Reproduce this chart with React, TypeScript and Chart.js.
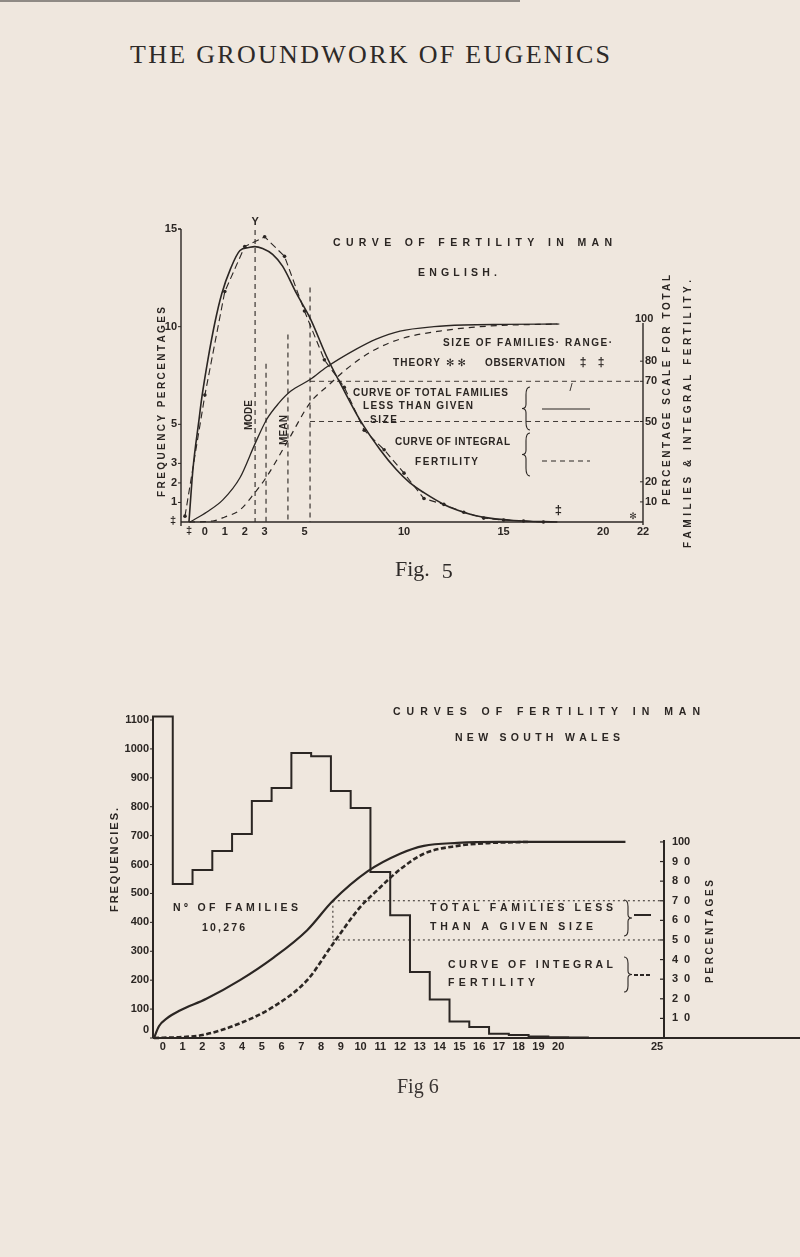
import { useEffect, useRef } from "react";
import { Chart, registerables } from "chart.js";

Chart.register(...registerables);

// ---------------- Fig. 5 : English data ----------------
const fig5TheoryX = [-0.8, -0.6, -0.3, -0.15, 0.15, 0.5, 0.85, 1.3, 1.76, 2.2, 2.5, 2.9, 3.4, 3.9, 4.6, 5.3, 6.1, 6.9, 7.8, 8.8, 9.6, 10.3, 11.0, 12.0, 12.7, 13.5, 14.3, 15.5, 17.7];
const fig5TheoryY = [0, 2.7, 5.2, 6.4, 8.3, 10.2, 11.7, 13.0, 13.9, 14.05, 14.1, 14.0, 13.7, 13.1, 11.7, 10.4, 8.5, 6.9, 5.2, 3.7, 2.7, 2.0, 1.5, 0.9, 0.6, 0.35, 0.2, 0.08, 0];
const fig5ObsSize = [-1, 0, 1, 2, 3, 4, 5, 6, 7, 8, 9, 10, 11, 12, 13, 14, 15, 16, 17];
const fig5ObsY = [0.3, 6.5, 11.8, 14.1, 14.6, 13.6, 10.8, 8.3, 6.9, 4.7, 3.7, 2.5, 1.2, 0.9, 0.5, 0.2, 0.1, 0.05, 0];
const fig5TotalX = [-0.75, 0.1, 0.9, 1.76, 2.52, 3.1, 3.7, 4.3, 5.3, 6.1, 7.6, 8.6, 9.8, 11.5, 13, 15, 17.7];
const fig5TotalP = [0, 5, 11, 22, 39, 51, 59, 65, 71, 77, 86, 91, 95, 97.2, 98, 98.3, 98.5];
const fig5IntegralX = [-0.8, 0.4, 1.0, 1.76, 2.5, 3.1, 4.2, 5.3, 6.2, 7.1, 8.4, 9.8, 11.8, 14.3, 17.8];
const fig5IntegralP = [0, 0.5, 2.5, 6, 14.5, 22.5, 41, 59.5, 68, 76, 85, 91, 95, 97.5, 98.5];
const fig5LeftTicks = [1, 2, 3, 5, 10, 15];
const fig5RightTicks = [10, 20, 50, 70, 80, 100];
const fig5XTicks = [0, 1, 2, 3, 5, 10, 15, 20, 22];
const fig5MarkerX = [2.52, 3.07, 4.17, 5.28];
const fig5MarkerTop = [14.95, 8.1, 9.6, 12.0];
const fig5Guides = [70, 50];

// ---------------- Fig. 6 : New South Wales data ----------------
const fig6Sizes = [0, 1, 2, 3, 4, 5, 6, 7, 8, 9, 10, 11, 12, 13, 14, 15, 16, 17, 18, 19, 20, 21];
const fig6Families = [1112, 533, 581, 647, 706, 820, 865, 986, 975, 854, 796, 574, 425, 228, 133, 57, 38, 15, 10, 5, 3, 2];
const fig6TotalX = [-0.45, -0.2, 0.2, 0.86, 2.2, 3.9, 5.6, 7.3, 8.6, 10.35, 12, 13.2, 14.9, 17, 23.4];
const fig6TotalP = [0, 6, 10, 14, 20, 29.5, 41, 55, 70, 85, 94, 98, 99.5, 100, 100];
const fig6IntegralX = [-0.45, 1, 2, 3.9, 5.6, 7.3, 8.6, 10, 10.7, 12, 13.2, 14.9, 16.6, 18.5];
const fig6IntegralP = [0, 0.5, 1.5, 7.5, 16, 29.5, 48, 67, 74, 86, 94, 98, 99.5, 100];
const fig6LeftTicks = [0, 100, 200, 300, 400, 500, 600, 700, 800, 900, 1000, 1100];
const fig6RightTicks = [10, 20, 30, 40, 50, 60, 70, 80, 90, 100];
const fig6XTicks = [0, 1, 2, 3, 4, 5, 6, 7, 8, 9, 10, 11, 12, 13, 14, 15, 16, 17, 18, 19, 20, 25];
const fig6Guides = [70, 50];
const fig6GuideX = 8.6;

// ---------------- styling ----------------
const INK = "#2b2623";
const PAPER = "#efe7de";
const SANS = '"Liberation Sans", "DejaVu Sans", sans-serif';
const F10 = `bold 10px ${SANS}`;
const F11 = `bold 11px ${SANS}`;

const pts = (xs: number[], ys: number[]) => xs.map((x, i) => ({ x, y: ys[i] }));

function spaced(ctx: CanvasRenderingContext2D, text: string, x0: number, x1: number, y: number, font: string) {
  ctx.font = font;
  ctx.textAlign = "left";
  ctx.textBaseline = "middle";
  const chars = Array.from(text);
  const w = chars.map((c) => ctx.measureText(c).width);
  const total = w.reduce((a, b) => a + b, 0);
  const gap = chars.length > 1 ? (x1 - x0 - total) / (chars.length - 1) : 0;
  let x = x0;
  chars.forEach((c, i) => {
    ctx.fillText(c, x, y);
    x += w[i] + gap;
  });
}
function rotSpaced(ctx: CanvasRenderingContext2D, text: string, x: number, yBottom: number, yTop: number, font: string) {
  ctx.save();
  ctx.translate(x, yBottom);
  ctx.rotate(-Math.PI / 2);
  spaced(ctx, text, 0, yBottom - yTop, 0, font);
  ctx.restore();
}
function seg(ctx: CanvasRenderingContext2D, x0: number, y0: number, x1: number, y1: number, width: number, dash: number[] = []) {
  ctx.save();
  ctx.lineWidth = width;
  ctx.setLineDash(dash);
  ctx.beginPath();
  ctx.moveTo(x0, y0);
  ctx.lineTo(x1, y1);
  ctx.stroke();
  ctx.restore();
}
function txt(ctx: CanvasRenderingContext2D, s: string, x: number, y: number, font: string, align: CanvasTextAlign) {
  ctx.font = font;
  ctx.textAlign = align;
  ctx.textBaseline = "middle";
  ctx.fillText(s, x, y);
}
function brace(ctx: CanvasRenderingContext2D, x: number, y0: number, y1: number, dir: number) {
  const h = y1 - y0;
  const m = (y0 + y1) / 2;
  const w = 4 * dir;
  ctx.save();
  ctx.lineWidth = 1.1;
  ctx.setLineDash([]);
  ctx.beginPath();
  ctx.moveTo(x - w, y0);
  ctx.quadraticCurveTo(x, y0, x, y0 + h * 0.18);
  ctx.lineTo(x, m - h * 0.1);
  ctx.quadraticCurveTo(x, m, x + w, m);
  ctx.quadraticCurveTo(x, m, x, m + h * 0.1);
  ctx.lineTo(x, y1 - h * 0.18);
  ctx.quadraticCurveTo(x, y1, x - w, y1);
  ctx.stroke();
  ctx.restore();
}

// annotation layouts (page pixels)
const fig5Texts: [string, number, number, number][] = [
  ["CURVE OF FERTILITY IN MAN", 333, 612, 243],
  ["ENGLISH.", 418, 497, 273],
  ["SIZE OF FAMILIES· RANGE·", 443, 612, 343],
  ["THEORY", 393, 440, 363],
  ["✻✻", 446, 466, 363],
  ["OBSERVATION", 485, 565, 363],
  ["CURVE OF TOTAL FAMILIES", 353, 508, 393],
  ["LESS THAN GIVEN", 363, 473, 406],
  ["SIZE", 370, 397, 420],
  ["CURVE OF INTEGRAL", 395, 510, 442],
  ["FERTILITY", 415, 478, 462],
];
const fig6Texts: [string, number, number, number][] = [
  ["CURVES OF FERTILITY IN MAN", 393, 700, 712],
  ["NEW SOUTH WALES", 455, 620, 738],
  ["Nº OF FAMILIES", 173, 298, 908],
  ["10,276", 202, 245, 928],
  ["TOTAL FAMILIES LESS", 430, 613, 908],
  ["THAN A GIVEN SIZE", 430, 593, 927],
  ["CURVE OF INTEGRAL", 448, 613, 965],
  ["FERTILITY", 448, 535, 983],
];

const fig5Decor = {
  id: "fig5Decor",
  afterDraw(chart: any) {
    const { ctx } = chart;
    const { x, y, y2 } = chart.scales;
    const X = (v: number) => x.getPixelForValue(v);
    const Y = (v: number) => y.getPixelForValue(v);
    const P = (v: number) => y2.getPixelForValue(v);
    ctx.save();
    ctx.strokeStyle = INK;
    ctx.fillStyle = INK;
    const left = X(x.min);
    const right = X(22);
    const base = Y(0);
    // axes
    seg(ctx, left, Y(15), left, base + 4, 1.4);
    seg(ctx, left - 3, Y(15), left, Y(15), 1.2);
    seg(ctx, left, base, right, base, 1.4);
    seg(ctx, right, P(99), right, base + 3, 1.4);
    fig5LeftTicks.forEach((v) => {
      seg(ctx, left - 3, Y(v), left, Y(v), 1);
      txt(ctx, String(v), left - 4, Y(v), F11, "right");
    });
    fig5RightTicks.forEach((v) => {
      if (v === 100) {
        txt(ctx, "100", right - 8, P(v) - 2, F11, "left");
      } else {
        seg(ctx, right - 3, P(v), right, P(v), 1);
        txt(ctx, String(v), right + 2, P(v), F11, "left");
      }
    });
    fig5XTicks.forEach((v) => txt(ctx, String(v), X(v), base + 10, F11, "center"));
    txt(ctx, "‡", left - 8, base - 1, F11, "center");
    txt(ctx, "‡", X(-0.8), base + 9, F11, "center");
    // range symbols on the baseline
    txt(ctx, "‡", X(17.75), base - 12, `bold 13px ${SANS}`, "center");
    txt(ctx, "✻", X(21.5), base - 5, `bold 9px ${SANS}`, "center");
    // mode / mean markers
    fig5MarkerX.forEach((mx, i) => seg(ctx, X(mx), Y(fig5MarkerTop[i]), X(mx), base, 1.1, [5, 4]));
    txt(ctx, "Y", X(2.52), Y(fig5MarkerTop[0]) - 8, F11, "center");
    rotSpaced(ctx, "MODE", X(2.52) - 6, 430, 400, F10);
    rotSpaced(ctx, "MEAN", X(4.17) - 4, 445, 415, F10);
    // guide lines
    fig5Guides.forEach((g) => seg(ctx, X(fig5MarkerX[3]), P(g), right, P(g), 0.9, [5, 4]));
    // axis titles
    rotSpaced(ctx, "FREQUENCY PERCENTAGES", 162, 497, 307, F10);
    rotSpaced(ctx, "PERCENTAGE SCALE FOR TOTAL", 667, 505, 275, F10);
    rotSpaced(ctx, "FAMILIES & INTEGRAL FERTILITY.", 688, 548, 280, F10);
    // texts
    fig5Texts.forEach(([s, a, b, yy], i) => spaced(ctx, s, a, b, yy, i === 0 || i === 1 ? `bold 10.5px ${SANS}` : F10));
    txt(ctx, "‡", 583, 363, `bold 12px ${SANS}`, "center");
    txt(ctx, "‡", 601, 363, `bold 12px ${SANS}`, "center");
    txt(ctx, "/", 571, 388, `11px ${SANS}`, "center");
    brace(ctx, 526, 387, 430, -1);
    brace(ctx, 526, 433, 476, -1);
    seg(ctx, 542, 409, 590, 409, 1.1);
    seg(ctx, 542, 461, 590, 461, 1.1, [5, 4]);
    ctx.restore();
  },
};

const fig6Decor = {
  id: "fig6Decor",
  afterDraw(chart: any) {
    const { ctx } = chart;
    const { x, y, y2 } = chart.scales;
    const X = (v: number) => x.getPixelForValue(v);
    const Y = (v: number) => y.getPixelForValue(v);
    const P = (v: number) => y2.getPixelForValue(v);
    ctx.save();
    ctx.strokeStyle = INK;
    ctx.fillStyle = INK;
    const left = X(x.min);
    const right = X(x.max);
    const base = Y(0);
    seg(ctx, left, Y(fig6Families[0]), left, base, 2);
    seg(ctx, left, base, 800, base, 2);
    seg(ctx, right, P(100) - 2, right, base, 2);
    fig6LeftTicks.forEach((v) => {
      seg(ctx, left - 3, Y(v), left, Y(v), 1);
      txt(ctx, String(v), left - 4, v === 0 ? Y(v) - 8 : Y(v), F11, "right");
    });
    fig6RightTicks.forEach((v) => {
      seg(ctx, right - 4, P(v), right, P(v), 1.2);
      spaced(ctx, String(v), 672, 690, P(v), F11);
    });
    fig6XTicks.forEach((v) => txt(ctx, String(v), X(v), base + 9, F11, "center"));
    fig6Guides.forEach((g) => seg(ctx, X(fig6GuideX), P(g), right, P(g), 1, [2, 3]));
    seg(ctx, X(fig6GuideX), P(fig6Guides[0]), X(fig6GuideX), P(fig6Guides[1]), 1, [2, 3]);
    rotSpaced(ctx, "FREQUENCIES.", 115, 912, 808, F11);
    rotSpaced(ctx, "PERCENTAGES", 710, 983, 880, F10);
    fig6Texts.forEach(([s, a, b, yy]) => spaced(ctx, s, a, b, yy, `bold 10.5px ${SANS}`));
    brace(ctx, 628, 900, 936, 1);
    brace(ctx, 628, 957, 992, 1);
    seg(ctx, 634, 915, 651, 915, 2);
    seg(ctx, 634, 975, 651, 975, 2, [4, 2]);
    ctx.restore();
  },
};

function makeFig5(canvas: HTMLCanvasElement) {
  return new Chart(canvas, {
    type: "line",
    data: {
      datasets: [
        { label: "Theory", data: pts(fig5TheoryX, fig5TheoryY), yAxisID: "y", borderColor: INK, borderWidth: 1.6, pointRadius: 0, cubicInterpolationMode: "monotone", clip: false },
        { label: "Observation", data: pts(fig5ObsSize, fig5ObsY), yAxisID: "y", borderColor: INK, borderWidth: 1.1, borderDash: [7, 4], pointRadius: 1.8, pointBackgroundColor: INK, pointBorderWidth: 0, tension: 0, clip: false },
        { label: "Total families less than given size", data: pts(fig5TotalX, fig5TotalP), yAxisID: "y2", borderColor: INK, borderWidth: 1.3, pointRadius: 0, cubicInterpolationMode: "monotone", clip: false },
        { label: "Integral fertility", data: pts(fig5IntegralX, fig5IntegralP), yAxisID: "y2", borderColor: INK, borderWidth: 1.2, borderDash: [6, 5], pointRadius: 0, cubicInterpolationMode: "monotone", clip: false },
      ],
    } as any,
    options: {
      responsive: false,
      animation: false,
      devicePixelRatio: 1,
      events: [],
      layout: { padding: { left: 181, right: 157, top: 229, bottom: 735 } },
      plugins: { legend: { display: false }, tooltip: { enabled: false }, title: { display: false } },
      scales: {
        x: { type: "linear", min: -1.2, max: 22, display: false },
        y: { type: "linear", min: 0, max: 15, display: false },
        y2: { type: "linear", min: 0, max: 145.77, display: false },
      },
    } as any,
    plugins: [fig5Decor],
  });
}

function makeFig6(canvas: HTMLCanvasElement) {
  const last = fig6Sizes[fig6Sizes.length - 1];
  const hist = [{ x: fig6Sizes[0] - 0.5, y: 0 }, ...fig6Sizes.map((s, i) => ({ x: s - 0.5, y: fig6Families[i] })), { x: last + 0.5, y: 0 }];
  return new Chart(canvas, {
    type: "line",
    data: {
      datasets: [
        { label: "No. of families", data: hist, yAxisID: "y", borderColor: INK, borderWidth: 2, pointRadius: 0, stepped: "before", clip: false },
        { label: "Total families less than a given size", data: pts(fig6TotalX, fig6TotalP), yAxisID: "y2", borderColor: INK, borderWidth: 2.2, pointRadius: 0, cubicInterpolationMode: "monotone", clip: false },
        { label: "Curve of integral fertility", data: pts(fig6IntegralX, fig6IntegralP), yAxisID: "y2", borderColor: INK, borderWidth: 2.6, borderDash: [5, 2.5], pointRadius: 0, cubicInterpolationMode: "monotone", clip: false },
      ],
    } as any,
    options: {
      responsive: false,
      animation: false,
      devicePixelRatio: 1,
      events: [],
      layout: { padding: { left: 153, right: 136, top: 720, bottom: 219 } },
      plugins: { legend: { display: false }, tooltip: { enabled: false }, title: { display: false } },
      scales: {
        x: { type: "linear", min: -0.5, max: 25.35, display: false },
        y: { type: "linear", min: 0, max: 1100, display: false },
        y2: { type: "linear", min: 0, max: 162.2, display: false },
      },
    } as any,
    plugins: [fig6Decor],
  });
}

export default function App() {
  const ref5 = useRef<HTMLCanvasElement>(null);
  const ref6 = useRef<HTMLCanvasElement>(null);
  useEffect(() => {
    const c5 = makeFig5(ref5.current!);
    const c6 = makeFig6(ref6.current!);
    return () => {
      c5.destroy();
      c6.destroy();
    };
  }, []);
  const layer: any = { position: "absolute", left: 0, top: 0, width: 800, height: 1257 };
  const serif = '"Liberation Serif", serif';
  return (
    <div style={{ position: "absolute", left: 0, top: 0, width: 800, height: 1257, background: PAPER, overflow: "hidden" }}>
      <div style={{ position: "absolute", left: 0, top: 0, width: 520, height: 2, background: "#8f8a85" }} />
      <div
        style={{
          position: "absolute",
          left: 130,
          top: 40,
          lineHeight: "30px",
          fontFamily: serif,
          fontSize: 26,
          letterSpacing: "2.3px",
          color: "#2e2a28",
          whiteSpace: "nowrap",
        }}
      >
        THE GROUNDWORK OF EUGENICS
      </div>
      <canvas ref={ref5} width={800} height={1257} style={layer} />
      <canvas ref={ref6} width={800} height={1257} style={layer} />
      <div style={{ position: "absolute", left: 395, top: 555, lineHeight: "28px", fontFamily: serif, fontSize: 22, color: "#2e2a28", whiteSpace: "nowrap" }}>
        Fig.<span style={{ marginLeft: 12, position: "relative", top: 2 }}>5</span>
      </div>
      <div style={{ position: "absolute", left: 397, top: 1072, lineHeight: "28px", fontFamily: serif, fontSize: 20, color: "#3a3533", whiteSpace: "nowrap" }}>
        Fig 6
      </div>
    </div>
  );
}
